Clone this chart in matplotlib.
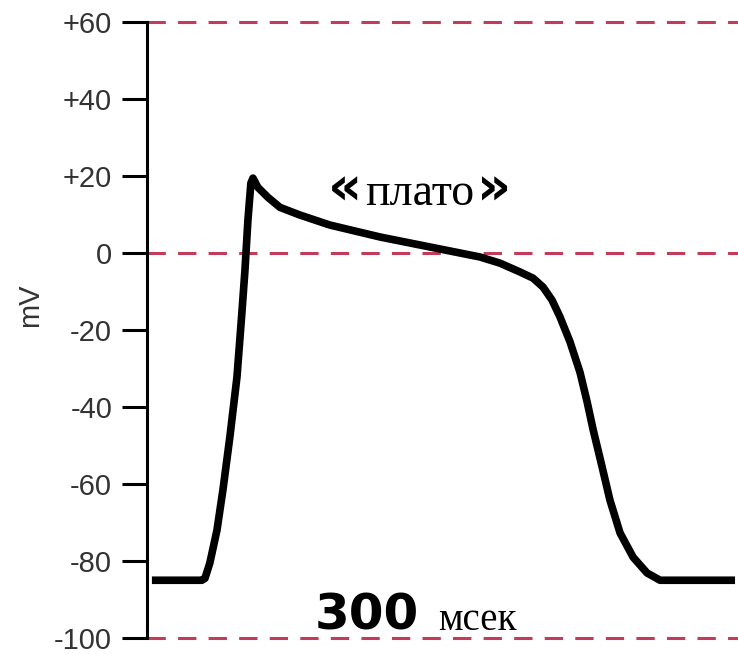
import numpy as np
import matplotlib.pyplot as plt

# action potential trace (time in ms, potential in mV)
time_ms = [3.4, 37.1, 39.2, 42.5, 47.3, 51.3, 56.0, 60.8, 64.1, 66.2, 68.2,
           70.2, 71.6, 74.9, 81.7, 89.8, 103.3, 123.5, 157.3, 191.0, 224.8,
           238.3, 251.8, 260.6, 267.3, 273.4, 278.8, 285.5, 292.3, 297.0,
           301.1, 307.1, 312.5, 319.3, 328.1, 337.5, 346.3, 396.9]
potential_mv = [-85, -85, -84.5, -80.5, -72, -61.6, -47.8, -32.2, -15.6, -4.4, 8.6,
                18.2, 19.5, 17.1, 14.5, 11.9, 9.9, 7.3, 4.2, 1.6, -1.0,
                -2.6, -4.9, -6.5, -8.8, -12.2, -16.6, -23.0, -31.0, -38.5,
                -45.8, -55.4, -64.2, -72.7, -79.0, -83.1, -85, -85]

y_ticks = [60, 40, 20, 0, -20, -40, -60, -80, -100]
y_tick_labels = ['+60', '+40', '+20', '0', '-20', '-40', '-60', '-80', '-100']
ref_levels = [60, 0, -100]

fig = plt.figure(figsize=(7.38, 6.54), dpi=100)
ax = fig.add_axes([0.199, 0.0245, 0.801, 0.9415])

# dashed reference lines
for lvl in ref_levels:
    ax.axhline(lvl, color='#c23b5b', lw=2.2, dashes=(6, 4), clip_on=False, zorder=1)

ax.plot(time_ms, potential_mv, color='black', lw=5.5, solid_joinstyle='round',
        solid_capstyle='butt', zorder=3)

ax.set_xlim(0, 398.9)
ax.set_ylim(-100, 60)
ax.set_xticks([])
ax.set_yticks(y_ticks)
ax.set_yticklabels(y_tick_labels, fontsize=21, color='#333333', family='Liberation Sans')
ax.tick_params(axis='y', direction='out', length=18, width=2.2, color='black', pad=7)

for s in ['top', 'right', 'bottom']:
    ax.spines[s].set_visible(False)
ax.spines['left'].set_linewidth(2.2)
ax.spines['left'].set_zorder(4)

fig.text(30 / 738, 1 - 305 / 654, 'mV', rotation=90, ha='center', va='center',
         fontsize=21, color='#333333', family='Liberation Sans')

# plateau label
ax.text(184, 12.5, 'плато', ha='center', va='baseline', fontsize=33,
        family='Liberation Serif')
ax.text(145.5, 12.5, '«', ha='right', va='baseline', fontsize=38,
        family='DejaVu Sans', fontweight='bold')
ax.text(222.5, 12.5, '»', ha='left', va='baseline', fontsize=38,
        family='DejaVu Sans', fontweight='bold')

# time scale label
ax.text(113.4, -97.9, '300', ha='left', va='baseline', fontsize=36,
        family='DejaVu Sans', fontweight='bold')
ax.text(196.4, -97.9, 'мсек', ha='left', va='baseline', fontsize=28,
        family='Liberation Serif')

fig.savefig('out.png', dpi=100)
